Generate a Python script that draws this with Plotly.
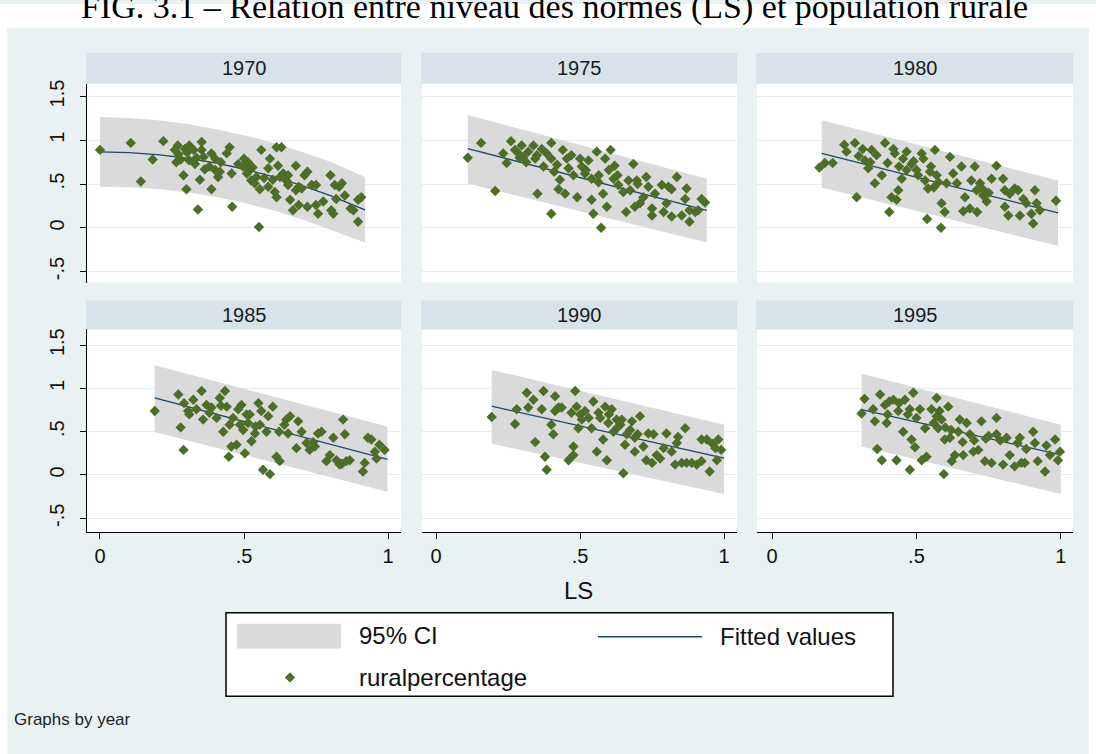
import plotly.graph_objects as go

W, H = 1096, 754

# ---------------- data ----------------
years = ["1970", "1975", "1980", "1985", "1990", "1995"]

ls_1970 = [0.000, 0.107, 0.142, 0.183, 0.220, 0.260, 0.270, 0.265, 0.290, 0.300,
           0.295, 0.310, 0.325, 0.280, 0.310, 0.340, 0.347, 0.353, 0.353, 0.360,
           0.330, 0.364, 0.387, 0.387, 0.400, 0.380, 0.400, 0.410, 0.416, 0.440,
           0.450, 0.420, 0.459, 0.457, 0.500, 0.514, 0.520, 0.497, 0.510, 0.525,
           0.537, 0.552, 0.555, 0.560, 0.543, 0.584, 0.590, 0.584, 0.613, 0.630,
           0.607, 0.613, 0.618, 0.636, 0.642, 0.653, 0.653, 0.660, 0.670, 0.680,
           0.680, 0.690, 0.690, 0.710, 0.720, 0.720, 0.735, 0.750, 0.750, 0.757,
           0.775, 0.800, 0.803, 0.810, 0.815, 0.830, 0.840, 0.820, 0.850, 0.870,
           0.880, 0.896, 0.907, 0.896, 0.272, 0.302, 0.335, 0.480, 0.530, 0.570,
           0.600, 0.625, 0.650, 0.700]
rural_1970 = [0.89, 0.97, 0.53, 0.78, 0.99, 0.89, 0.94, 0.75, 0.60, 0.44,
              0.90, 0.94, 0.89, 0.78, 0.77, 0.21, 0.55, 0.98, 0.89, 0.81,
              0.73, 0.67, 0.44, 0.85, 0.79, 0.70, 0.66, 0.58, 0.64, 0.85,
              0.92, 0.75, 0.24, 0.62, 0.79, 0.75, 0.66, 0.70, 0.62, 0.54,
              0.51, 0.01, 0.44, 0.89, 0.58, 0.68, 0.79, 0.47, 0.92, 0.92,
              0.41, 0.35, 0.71, 0.62, 0.56, 0.60, 0.49, 0.32, 0.20, 0.71,
              0.43, 0.47, 0.26, 0.60, 0.64, 0.24, 0.49, 0.49, 0.26, 0.16,
              0.30, 0.60, 0.20, 0.16, 0.49, 0.47, 0.51, 0.33, 0.37, 0.22,
              0.20, 0.32, 0.35, 0.07, 0.84, 0.86, 0.80, 0.73, 0.69, 0.57,
              0.55, 0.58, 0.53, 0.45]

ls_1975 = [0.110, 0.156, 0.205, 0.245, 0.233, 0.260, 0.274, 0.286, 0.297, 0.303,
           0.313, 0.320, 0.338, 0.344, 0.352, 0.367, 0.373, 0.384, 0.400, 0.400,
           0.400, 0.410, 0.430, 0.425, 0.440, 0.448, 0.454, 0.460, 0.470, 0.477,
           0.490, 0.500, 0.506, 0.517, 0.529, 0.540, 0.540, 0.546, 0.558, 0.564,
           0.573, 0.580, 0.587, 0.593, 0.600, 0.606, 0.616, 0.620, 0.633, 0.650,
           0.660, 0.668, 0.674, 0.685, 0.690, 0.697, 0.708, 0.730, 0.737, 0.750,
           0.750, 0.760, 0.784, 0.790, 0.800, 0.807, 0.818, 0.818, 0.836, 0.853,
           0.865, 0.870, 0.880, 0.880, 0.900, 0.910, 0.922, 0.934, 0.290, 0.350,
           0.420, 0.520, 0.565, 0.630, 0.700, 0.720]
rural_1975 = [0.80, 0.97, 0.42, 0.74, 0.85, 0.99, 0.89, 0.85, 0.94, 0.81,
              0.75, 0.87, 0.94, 0.79, 0.39, 0.90, 0.70, 0.85, 0.16, 0.97,
              0.79, 0.64, 0.55, 0.44, 0.89, 0.39, 0.79, 0.68, 0.83, 0.60,
              0.35, 0.79, 0.70, 0.62, 0.77, 0.32, 0.56, 0.16, 0.87, 0.52,
              0.00, 0.39, 0.79, 0.24, 0.66, 0.89, 0.56, 0.71, 0.49, 0.41,
              0.18, 0.54, 0.43, 0.73, 0.24, 0.54, 0.28, 0.58, 0.47, 0.22,
              0.14, 0.39, 0.49, 0.18, 0.28, 0.47, 0.44, 0.13, 0.58, 0.14,
              0.33, 0.45, 0.07, 0.20, 0.18, 0.20, 0.33, 0.29, 0.80, 0.83,
              0.72, 0.66, 0.60, 0.60, 0.50, 0.35]

ls_1980 = [0.164, 0.183, 0.210, 0.250, 0.258, 0.287, 0.293, 0.314, 0.322, 0.333,
           0.345, 0.356, 0.362, 0.380, 0.391, 0.400, 0.406, 0.414, 0.420, 0.425,
           0.431, 0.437, 0.449, 0.454, 0.466, 0.466, 0.483, 0.500, 0.506, 0.518,
           0.524, 0.530, 0.537, 0.540, 0.547, 0.564, 0.570, 0.576, 0.585, 0.587,
           0.598, 0.604, 0.616, 0.627, 0.640, 0.656, 0.662, 0.668, 0.685, 0.690,
           0.702, 0.708, 0.710, 0.720, 0.731, 0.743, 0.760, 0.777, 0.800, 0.806,
           0.806, 0.818, 0.823, 0.840, 0.852, 0.858, 0.870, 0.880, 0.898, 0.904,
           0.910, 0.916, 0.927, 0.983, 0.300, 0.340, 0.440, 0.490, 0.550, 0.560,
           0.730, 0.750]
rural_1980 = [0.69, 0.74, 0.74, 0.95, 0.87, 0.97, 0.35, 0.90, 0.77, 0.68,
              0.89, 0.51, 0.83, 0.60, 0.97, 0.74, 0.18, 0.35, 0.90, 0.85,
              0.32, 0.43, 0.56, 0.79, 0.87, 0.66, 0.73, 0.66, 0.60, 0.85,
              0.79, 0.54, 0.10, 0.45, 0.64, 0.89, 0.60, 0.52, 0.00, 0.28,
              0.18, 0.51, 0.81, 0.62, 0.51, 0.70, 0.19, 0.35, 0.22, 0.54,
              0.70, 0.43, 0.18, 0.51, 0.37, 0.30, 0.56, 0.71, 0.56, 0.43,
              0.24, 0.14, 0.39, 0.45, 0.43, 0.14, 0.33, 0.28, 0.16, 0.05,
              0.43, 0.28, 0.20, 0.31, 0.82, 0.75, 0.70, 0.76, 0.70, 0.46,
              0.44, 0.40]

ls_1985 = [0.190, 0.272, 0.280, 0.290, 0.292, 0.306, 0.324, 0.335, 0.353, 0.358,
           0.370, 0.387, 0.405, 0.416, 0.428, 0.434, 0.440, 0.447, 0.450, 0.456,
           0.462, 0.474, 0.480, 0.486, 0.491, 0.497, 0.503, 0.509, 0.514, 0.526,
           0.538, 0.550, 0.555, 0.560, 0.566, 0.578, 0.584, 0.590, 0.600, 0.613,
           0.622, 0.624, 0.647, 0.653, 0.660, 0.682, 0.688, 0.700, 0.717, 0.728,
           0.746, 0.757, 0.769, 0.786, 0.798, 0.810, 0.821, 0.832, 0.844, 0.850,
           0.855, 0.867, 0.913, 0.919, 0.930, 0.942, 0.954, 0.960, 0.970, 0.988,
           0.310, 0.380, 0.420, 0.520, 0.540, 0.640, 0.740, 0.840]
rural_1985 = [0.74, 0.93, 0.55, 0.29, 0.83, 0.74, 0.87, 0.76, 0.97, 0.64,
              0.81, 0.78, 0.66, 0.89, 0.50, 0.97, 0.79, 0.21, 0.58, 0.33,
              0.66, 0.35, 0.76, 0.58, 0.81, 0.52, 0.25, 0.70, 0.60, 0.39,
              0.48, 0.83, 0.58, 0.74, 0.06, 0.50, 0.68, 0.01, 0.79, 0.21,
              0.50, 0.16, 0.64, 0.48, 0.68, 0.31, 0.62, 0.50, 0.37, 0.29,
              0.33, 0.48, 0.50, 0.16, 0.23, 0.43, 0.17, 0.12, 0.64, 0.47,
              0.16, 0.17, 0.04, 0.14, 0.43, 0.41, 0.27, 0.19, 0.35, 0.29,
              0.70, 0.72, 0.80, 0.70, 0.56, 0.58, 0.38, 0.13]

ls_1990 = [0.193, 0.274, 0.280, 0.315, 0.320, 0.338, 0.344, 0.367, 0.373, 0.378,
           0.384, 0.400, 0.407, 0.413, 0.413, 0.425, 0.436, 0.460, 0.470, 0.477,
           0.477, 0.483, 0.488, 0.494, 0.506, 0.517, 0.540, 0.546, 0.558, 0.564,
           0.570, 0.580, 0.587, 0.593, 0.598, 0.610, 0.616, 0.627, 0.640, 0.645,
           0.650, 0.656, 0.662, 0.674, 0.680, 0.690, 0.700, 0.708, 0.720, 0.730,
           0.737, 0.750, 0.755, 0.766, 0.778, 0.800, 0.818, 0.830, 0.836, 0.853,
           0.865, 0.870, 0.888, 0.905, 0.922, 0.922, 0.940, 0.950, 0.970, 0.975,
           0.980, 0.990, 0.500, 0.530, 0.600, 0.630, 0.690, 0.790, 0.840, 0.960]
rural_1990 = [0.67, 0.59, 0.76, 0.95, 0.78, 0.87, 0.38, 0.76, 0.97, 0.21,
              0.06, 0.58, 0.47, 0.91, 0.74, 0.78, 0.78, 0.17, 0.72, 0.23,
              0.33, 0.97, 0.79, 0.54, 0.64, 0.74, 0.54, 0.85, 0.27, 0.72,
              0.66, 0.41, 0.79, 0.17, 0.60, 0.76, 0.50, 0.64, 0.58, 0.64,
              0.02, 0.35, 0.47, 0.52, 0.62, 0.27, 0.47, 0.68, 0.33, 0.17,
              0.48, 0.14, 0.47, 0.23, 0.19, 0.48, 0.27, 0.12, 0.37, 0.14,
              0.54, 0.14, 0.14, 0.12, 0.16, 0.41, 0.41, 0.04, 0.31, 0.17,
              0.41, 0.29, 0.70, 0.66, 0.70, 0.55, 0.43, 0.31, 0.44, 0.36]

ls_1995 = [0.310, 0.320, 0.350, 0.356, 0.364, 0.374, 0.380, 0.391, 0.397, 0.406,
           0.420, 0.431, 0.437, 0.454, 0.460, 0.477, 0.477, 0.483, 0.489, 0.495,
           0.512, 0.518, 0.530, 0.535, 0.552, 0.570, 0.575, 0.580, 0.587, 0.595,
           0.598, 0.610, 0.616, 0.622, 0.633, 0.645, 0.650, 0.662, 0.674, 0.685,
           0.697, 0.714, 0.725, 0.737, 0.750, 0.760, 0.777, 0.777, 0.800, 0.812,
           0.823, 0.840, 0.858, 0.863, 0.875, 0.904, 0.910, 0.920, 0.945, 0.962,
           0.980, 0.990, 0.997, 0.400, 0.440, 0.470, 0.500, 0.560, 0.600, 0.620,
           0.660, 0.700, 0.740, 0.790, 0.850, 0.880, 0.950, 0.570]
rural_1995 = [0.71, 0.88, 0.76, 0.62, 0.30, 0.93, 0.17, 0.81, 0.60, 0.85,
              0.87, 0.17, 0.74, 0.50, 0.87, 0.06, 0.76, 0.41, 0.95, 0.32,
              0.76, 0.17, 0.54, 0.21, 0.76, 0.89, 0.54, 0.74, 0.64, 0.01,
              0.41, 0.79, 0.43, 0.16, 0.23, 0.50, 0.64, 0.23, 0.60, 0.47,
              0.27, 0.29, 0.62, 0.16, 0.45, 0.14, 0.66, 0.47, 0.12, 0.43,
              0.23, 0.10, 0.43, 0.14, 0.14, 0.50, 0.37, 0.16, 0.04, 0.23,
              0.41, 0.17, 0.27, 0.70, 0.83, 0.70, 0.66, 0.60, 0.55, 0.52,
              0.38, 0.40, 0.42, 0.40, 0.37, 0.30, 0.34, 0.68]

# fitted values and 95% CI
fx_1970 = [0.0, 0.1, 0.2, 0.3, 0.4, 0.5, 0.6, 0.7, 0.8, 0.92]
fit_1970 = [0.867, 0.859, 0.836, 0.797, 0.742, 0.672, 0.586, 0.484, 0.367, 0.206]
hi_1970 = [1.266, 1.255, 1.228, 1.188, 1.128, 1.058, 0.972, 0.870, 0.755, 0.580]
lo_1970 = [0.468, 0.463, 0.444, 0.407, 0.356, 0.286, 0.200, 0.098, -0.022, -0.168]

fx_1975 = [0.11, 0.94]
fit_1975 = [0.905, 0.200]
hi_1975 = [1.290, 0.560]
lo_1975 = [0.506, -0.167]

fx_1980 = [0.172, 0.99]
fit_1980 = [0.850, 0.170]
hi_1980 = [1.230, 0.540]
lo_1980 = [0.460, -0.205]

fx_1985 = [0.19, 0.998]
fit_1985 = [0.890, 0.180]
hi_1985 = [1.267, 0.560]
lo_1985 = [0.496, -0.194]

fx_1990 = [0.193, 1.0]
fit_1990 = [0.795, 0.194]
hi_1990 = [1.213, 0.580]
lo_1990 = [0.360, -0.220]

fx_1995 = [0.31, 1.0]
fit_1995 = [0.756, 0.233]
hi_1995 = [1.170, 0.580]
lo_1995 = [0.330, -0.220]

y_tickvals = [-0.5, 0, 0.5, 1, 1.5]
y_ticktext = ["-.5", "0", ".5", "1", "1.5"]
x_tickvals = [0, 0.5, 1]
x_ticktext = ["0", ".5", "1"]

legend_labels = ["95% CI", "Fitted values", "ruralpercentage"]
title_text = "FIG. 3.1 – Relation entre niveau des normes (LS) et population rurale"

# ---------------- styling / geometry ----------------
BG = "#EAF1F3"
STRIP = "#D8E3E9"
GRID = "#E6EEF1"
BAND = "#DADADA"
LINE = "#1A476F"
MARK = "#4C6E27"
FONT = "Liberation Sans, Arial, sans-serif"

col_px = [(87, 401), (422, 737), (757, 1073)]
col_rng = [(-0.045, 1.045), (-0.049, 1.045), (-0.052, 1.042)]
row_px = [(80, 280), (327, 531)]
row_rng = [(-0.625, 1.648), (-0.661, 1.684)]
strip_px = [(49, 80), (298, 327)]
BG_TOP = 24


def px(x):
    return x / W


def py(y):
    return 1 - y / H


panels = [
    (years[0], ls_1970, rural_1970, fx_1970, fit_1970, lo_1970, hi_1970),
    (years[1], ls_1975, rural_1975, fx_1975, fit_1975, lo_1975, hi_1975),
    (years[2], ls_1980, rural_1980, fx_1980, fit_1980, lo_1980, hi_1980),
    (years[3], ls_1985, rural_1985, fx_1985, fit_1985, lo_1985, hi_1985),
    (years[4], ls_1990, rural_1990, fx_1990, fit_1990, lo_1990, hi_1990),
    (years[5], ls_1995, rural_1995, fx_1995, fit_1995, lo_1995, hi_1995),
]

fig = go.Figure()
layout = dict(
    width=W, height=H, margin=dict(l=0, r=0, t=0, b=0),
    paper_bgcolor=BG, plot_bgcolor="white", showlegend=False,
    font=dict(family=FONT, color="#111111"),
)
shapes = []
annotations = []

for i, (yr, xs, ys, fx, fit, lo, hi) in enumerate(panels):
    n = i + 1
    r, c = divmod(i, 3)
    sfx = "" if n == 1 else str(n)
    xr, yr_ref = "x" + sfx, "y" + sfx

    fig.add_trace(go.Scatter(
        x=list(fx) + list(fx)[::-1], y=list(hi) + list(lo)[::-1],
        fill="toself", fillcolor=BAND, mode="lines", line=dict(width=0),
        hoverinfo="skip", xaxis=xr, yaxis=yr_ref, name=legend_labels[0]))
    fig.add_trace(go.Scatter(
        x=fx, y=fit, mode="lines", line=dict(color=LINE, width=1.3),
        xaxis=xr, yaxis=yr_ref, name=legend_labels[1]))
    fig.add_trace(go.Scatter(
        x=xs, y=ys, mode="markers",
        marker=dict(symbol="diamond", size=8, color=MARK, line=dict(width=0)),
        xaxis=xr, yaxis=yr_ref, name=legend_labels[2]))

    xa = dict(domain=[px(col_px[c][0]), px(col_px[c][1])], range=list(col_rng[c]),
              anchor=yr_ref, showgrid=False, zeroline=False, fixedrange=True)
    if r == 1:
        xa.update(showline=True, linecolor="black", linewidth=1.3, ticks="outside",
                  ticklen=6, tickwidth=1.3, tickcolor="black",
                  tickvals=x_tickvals, ticktext=x_ticktext,
                  tickfont=dict(size=20, color="#111111", family=FONT))
    else:
        xa.update(showline=False, showticklabels=False, ticks="")
    ya = dict(domain=[py(row_px[r][1]), py(row_px[r][0])], range=list(row_rng[r]),
              anchor=xr, showgrid=True, gridcolor=GRID, gridwidth=1, zeroline=False,
              tickvals=y_tickvals, fixedrange=True)
    if c == 0:
        ya.update(showline=True, linecolor="black", linewidth=1.3, ticks="outside",
                  ticklen=6, tickwidth=1.3, tickcolor="black", ticktext=y_ticktext,
                  tickangle=-90, ticklabelstandoff=8,
                  tickfont=dict(size=20, color="#111111", family=FONT))
    else:
        ya.update(showline=False, showticklabels=False, ticks="")
    layout["xaxis" + sfx] = xa
    layout["yaxis" + sfx] = ya

    # strip header
    shapes.append(dict(type="rect", xref="paper", yref="paper", layer="below",
                       x0=px(col_px[c][0] - 1), x1=px(col_px[c][1]),
                       y0=py(strip_px[r][1]), y1=py(strip_px[r][0]),
                       fillcolor=STRIP, line=dict(width=0)))
    annotations.append(dict(text=yr, xref="paper", yref="paper", showarrow=False,
                            x=px((col_px[c][0] + col_px[c][1]) / 2),
                            y=py((strip_px[r][0] + strip_px[r][1]) / 2),
                            xanchor="center", yanchor="middle",
                            font=dict(size=20, color="#1a1a1a", family=FONT)))

# white margins outside the Stata graph region
for x0, x1, y0, y1 in [(0, 7, 0, H), (0, W, 0, BG_TOP), (1089, W, 0, H)]:
    shapes.append(dict(type="rect", xref="paper", yref="paper", layer="below",
                       x0=px(x0), x1=px(x1), y0=py(y1), y1=py(y0),
                       fillcolor="white", line=dict(width=0)))

# legend box
shapes.append(dict(type="rect", xref="paper", yref="paper", layer="below",
                   x0=px(226), x1=px(893), y0=py(696), y1=py(612),
                   fillcolor="white", line=dict(color="black", width=1.5)))
shapes.append(dict(type="rect", xref="paper", yref="paper", layer="above",
                   x0=px(237), x1=px(341), y0=py(648), y1=py(623),
                   fillcolor=BAND, line=dict(width=0)))
shapes.append(dict(type="line", xref="paper", yref="paper", layer="above",
                   x0=px(598), x1=px(702), y0=py(636), y1=py(636),
                   line=dict(color=LINE, width=1.5)))
# legend marker on a tiny hidden axis inside the legend box
layout["xaxis7"] = dict(domain=[px(280), px(300)], range=[280, 300], visible=False,
                        anchor="y7", fixedrange=True)
layout["yaxis7"] = dict(domain=[py(687), py(667)], range=[687, 667], visible=False,
                        anchor="x7", fixedrange=True)
fig.add_trace(go.Scatter(x=[290], y=[677], mode="markers", xaxis="x7", yaxis="y7",
                         marker=dict(symbol="diamond", size=8, color=MARK),
                         hoverinfo="skip", name=legend_labels[2]))

for txt, x, y in [(legend_labels[0], 357, 635), (legend_labels[1], 718, 636),
                  (legend_labels[2], 357, 677)]:
    annotations.append(dict(text=txt, xref="paper", yref="paper", showarrow=False,
                            x=px(x), y=py(y), xanchor="left", yanchor="middle",
                            font=dict(size=24, color="#111111", family=FONT)))

annotations.append(dict(text="LS", xref="paper", yref="paper", showarrow=False,
                        x=px(578), y=py(590), xanchor="center", yanchor="middle",
                        font=dict(size=24, color="#111111", family=FONT)))
annotations.append(dict(text="Graphs by year", xref="paper", yref="paper",
                        showarrow=False, x=px(12), y=py(719), xanchor="left",
                        yanchor="middle",
                        font=dict(size=17, color="#222222", family=FONT)))
annotations.append(dict(text=title_text, xref="paper", yref="paper", showarrow=False,
                        x=px(554), y=py(BG_TOP), xanchor="center", yanchor="bottom",
                        font=dict(size=34, color="black",
                                  family="Liberation Serif, DejaVu Serif, serif")))

layout["shapes"] = shapes
layout["annotations"] = annotations
fig.update_layout(**layout)

fig.write_html("out.html", config={"displayModeBar": False},
               post_script="document.body.style.margin='0';document.body.style.overflow='hidden';")
